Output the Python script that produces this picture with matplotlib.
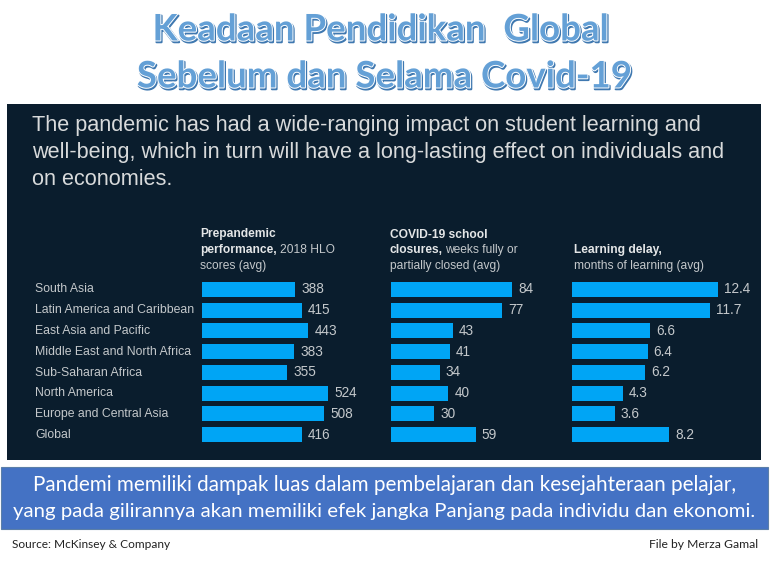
import matplotlib
matplotlib.use('Agg')
import matplotlib.pyplot as plt
import matplotlib.patheffects as pe
from matplotlib.patches import Rectangle

regions = ['South Asia', 'Latin America and Caribbean', 'East Asia and Pacific',
           'Middle East and North Africa', 'Sub-Saharan Africa', 'North America',
           'Europe and Central Asia', 'Global']
hlo_scores = [388, 415, 443, 383, 355, 524, 508, 416]
closure_weeks = [84, 77, 43, 41, 34, 40, 30, 59]
delay_months = [12.4, 11.7, 6.6, 6.4, 6.2, 4.3, 3.6, 8.2]
delay_labels = ['12.4', '11.7', '6.6', '6.4', '6.2', '4.3', '3.6', '8.2']

W, H = 770, 561
NAVY = '#0a1d2d'
BAR = '#00a5f5'
GREY = '#c4c8cb'
SANS = 'Liberation Sans'


def frac_box(x0, y0, x1, y1):
    # pixel box, y from the top -> figure fractions
    return [x0 / W, 1 - y1 / H, (x1 - x0) / W, (y1 - y0) / H]


fig = plt.figure(figsize=(7.7, 5.61), dpi=100, facecolor='white')

fig.add_artist(Rectangle((7 / W, 1 - 460 / H), 754 / W, 356 / H, transform=fig.transFigure,
                         facecolor=NAVY, edgecolor='none', zorder=-2))
fig.add_artist(Rectangle((1 / W, 1 - 529 / H), 767 / W, 62 / H, transform=fig.transFigure,
                         facecolor='#4472c4', edgecolor='#5b7fa8', linewidth=0.8, zorder=-2))


def ftext(x, y, s, **kw):
    return fig.text(x / W, 1 - y / H, s, **kw)


# title
shadow = [pe.Stroke(linewidth=1.6, foreground='#3f78b0', offset=(0.8, -1.2)),
          pe.Stroke(linewidth=1.4, foreground='white'),
          pe.Normal()]
ftext(380, 30, 'Keadaan Pendidikan  Global', family='Lato', weight='bold', fontsize=26.4,
      color='#64a0d6', ha='center', va='center', path_effects=shadow)
ftext(384, 77, 'Sebelum dan Selama Covid-19', family='Lato', weight='bold', fontsize=26.4,
      color='#64a0d6', ha='center', va='center', path_effects=shadow)

# headline on the dark panel
for y, line in zip([125.5, 152.5, 179.5], [
        'The pandemic has had a wide-ranging impact on student learning and',
        'well-being, which in turn will have a long-lasting effect on individuals and',
        'on economies.']):
    ftext(32, y, line, family=SANS, fontsize=15.6, color='#d8dadb', ha='left', va='center')

# panels
panels = [
    (201.5, 0.241, hlo_scores, [str(v) for v in hlo_scores]),
    (390.7, 1.44, closure_weeks, [str(v) for v in closure_weeks]),
    (572.3, 11.75, delay_months, delay_labels),
]
y_pos = list(range(len(regions)))
for x0, px_per_unit, vals, labels in panels:
    ax = fig.add_axes(frac_box(x0, 279, 761, 445))
    ax.set_xlim(0, (761 - x0) / px_per_unit)
    ax.set_ylim(len(regions) - 0.5, -0.5)
    ax.patch.set_alpha(0)
    ax.axis('off')
    bars = ax.barh(y_pos, vals, height=0.72, color=BAR)
    ax.bar_label(bars, labels=labels, padding=4.5, color=GREY, fontsize=9.8, family=SANS)

for i, name in enumerate(regions):
    ftext(35, 289.5 + i * 20.8, name, family=SANS, fontsize=8.8, color=GREY, ha='left', va='center')


def header(x, y, bold, plain=None):
    t = ftext(x, y, bold, family=SANS, weight='bold', fontsize=8.65, color='#e4e6e7',
              ha='left', va='center')
    if plain:
        fig.canvas.draw()
        bb = t.get_window_extent()
        fig.text((bb.x1 + 3) / W, 1 - y / H, plain, family=SANS, fontsize=8.65, color=GREY,
                 ha='left', va='center')


def sub(x, y, s):
    ftext(x, y, s, family=SANS, fontsize=8.65, color=GREY, ha='left', va='center')


header(200, 234.5, 'Prepandemic')
header(200, 250, 'performance,', '2018 HLO')
sub(200, 265.5, 'scores (avg)')
header(389.5, 234.5, 'COVID-19 school')
header(389.5, 250, 'closures,', 'weeks fully or')
sub(389.5, 265.5, 'partially closed (avg)')
header(573.5, 250, 'Learning delay,')
sub(573.5, 265.5, 'months of learning (avg)')

# blue box
ftext(385, 485, 'Pandemi memiliki dampak luas dalam pembelajaran dan kesejahteraan pelajar,',
      family='Lato', fontsize=14.85, color='white', ha='center', va='center')
ftext(384, 512, 'yang pada gilirannya akan memiliki efek jangka Panjang pada individu dan ekonomi.',
      family='Lato', fontsize=14.7, color='white', ha='center', va='center')

# footer
ftext(12, 545, 'Source: McKinsey & Company', family='Lato', fontsize=8.6, color='#222222',
      ha='left', va='center')
ftext(758, 545, 'File by Merza Gamal', family='Lato', fontsize=8.75, color='#222222',
      ha='right', va='center')

fig.savefig('out.png', dpi=100)
